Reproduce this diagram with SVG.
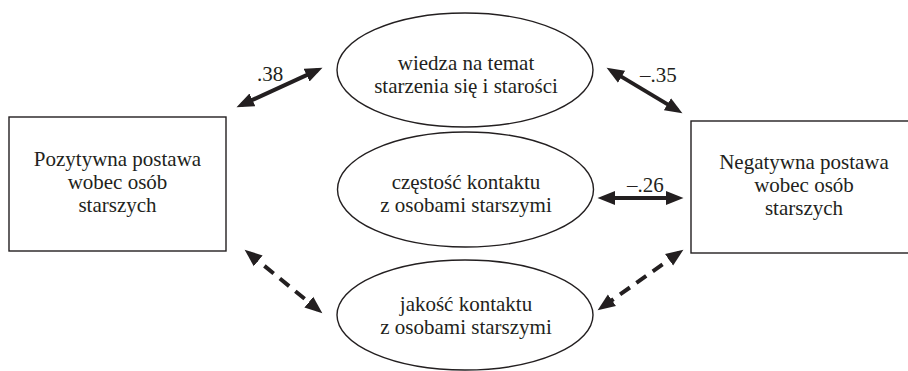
<svg xmlns="http://www.w3.org/2000/svg" width="908" height="371" viewBox="0 0 908 371">
<defs>
<style>
.box{fill:#fff;stroke:#231f20;stroke-width:1.4}
.t{font-family:'Liberation Serif','Times New Roman',serif;font-size:21px;fill:#231f20;text-anchor:middle}
.lab{font-family:'Liberation Serif','Times New Roman',serif;font-size:21px;fill:#231f20}
.arr{fill:none;stroke:#231f20;stroke-width:4;marker-start:url(#ah);marker-end:url(#ah)}
.dash{stroke-dasharray:12 8}
</style>
<marker id="ah" markerUnits="userSpaceOnUse" markerWidth="18" markerHeight="15" viewBox="0 0 18 15" refX="12" refY="7.5" orient="auto-start-reverse">
<path d="M0,0.5 L17.5,7.5 L0,14.5 z" fill="#231f20"/>
</marker>
</defs>
<rect width="908" height="371" fill="#fff"/>
<g id="connectors">
<path class="arr" d="M241.5,104.9 L317.5,70.1"/>
<path class="arr" d="M611.3,70.6 L677.7,110.4"/>
<path class="arr" d="M603,198 L678,198"/>
<path class="arr dash" d="M248.9,253.2 L318.1,309.8"/>
<path class="arr dash" d="M678.9,252.9 L602.1,307.1"/>
<text class="lab" x="257" y="81">.38</text>
<text class="lab" x="640" y="82">–.35</text>
<text class="lab" x="627" y="192">–.26</text>
</g>
<g id="pozytywna">
<rect class="box" x="9" y="117" width="217" height="134"/>
<text class="t" x="117.5" y="166">Pozytywna postawa</text>
<text class="t" x="117.5" y="189">wobec osób</text>
<text class="t" x="117.5" y="212">starszych</text>
</g>
<g id="negatywna">
<rect class="box" x="691" y="121" width="230" height="132"/>
<text class="t" x="804" y="169">Negatywna postawa</text>
<text class="t" x="804" y="192">wobec osób</text>
<text class="t" x="804" y="215">starszych</text>
</g>
<g id="wiedza">
<ellipse class="box" cx="465" cy="70" rx="128" ry="57"/>
<text class="t" x="466" y="70">wiedza na temat</text>
<text class="t" x="466" y="93">starzenia się i starości</text>
</g>
<g id="czestosc">
<ellipse class="box" cx="465.5" cy="189.5" rx="128" ry="57.5"/>
<text class="t" x="466" y="189">częstość kontaktu</text>
<text class="t" x="466" y="212">z osobami starszymi</text>
</g>
<g id="jakosc">
<ellipse class="box" cx="465" cy="315" rx="128" ry="55"/>
<text class="t" x="466" y="311">jakość kontaktu</text>
<text class="t" x="466" y="334">z osobami starszymi</text>
</g>
</svg>
